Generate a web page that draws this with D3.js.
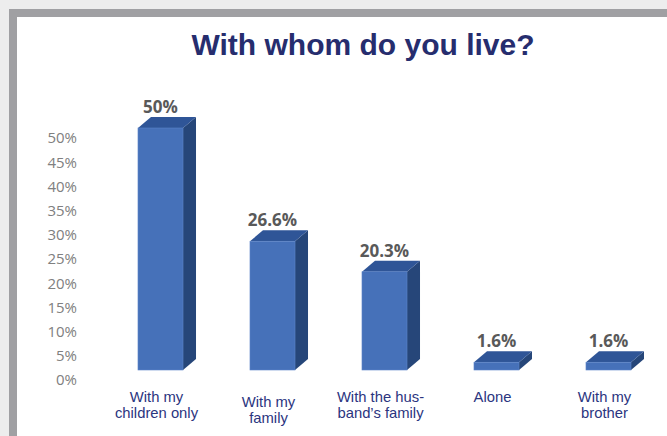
<!DOCTYPE html>
<html>
<head>
<meta charset="utf-8">
<script src="https://cdn.jsdelivr.net/npm/d3@7"></script>
<style>
  html, body { margin: 0; padding: 0; background: #ededed; }
  svg { display: block; }
</style>
</head>
<body>
<div id="chart"></div>
<script>
  // données
  var categories = ["With my children only", "With my family", "With the husband's family", "Alone", "With my brother"];
  var labelLines = [["With my", "children only"], ["With my", "family"], ["With the hus-", "band\u2019s family"], ["Alone"], ["With my", "brother"]];
  var values = [50, 26.6, 20.3, 1.6, 1.6];
  var valueLabels = ["50%", "26.6%", "20.3%", "1.6%", "1.6%"];
  var yTicks = [0, 5, 10, 15, 20, 25, 30, 35, 40, 45, 50];

  var width = 667, height = 436;
  var depthX = 13, depthY = 11;

  var svg = d3.select("#chart")
              .append("svg")
              .attr("width", width)
              .attr("height", height);

  // fond et cadre gris
  svg.append("rect")
     .attr("x", 0).attr("y", 0)
     .attr("width", width).attr("height", height)
     .style("fill", "#ededed");
  svg.append("rect")
     .attr("x", 13).attr("y", 13)
     .attr("width", width + 20).attr("height", height + 20)
     .style("fill", "#ffffff")
     .style("stroke", "#a0a0a3")
     .style("stroke-width", 8);

  svg.append("text")
     .attr("x", 363)
     .attr("y", 55)
     .attr("text-anchor", "middle")
     .style("font-family", "'Liberation Sans', Arial, sans-serif")
     .style("font-weight", "bold")
     .style("font-size", "30px")
     .style("fill", "#262d6e")
     .text("With whom do you live?");

  var xScale = d3.scaleBand()
    .domain(categories)
    .range([104.5, 104.5 + 5 * 112])
    .paddingInner(0.598)
    .paddingOuter(0.299);

  var yScale = d3.scaleLinear()
    .domain([0, 50])
    .range([370, 128]);

  // axe des y (sans ligne), décalé vers le bas comme le mur du fond
  var yAxis = svg.append("g")
     .attr("class", "axis")
     .attr("transform", "translate(77,10)")
     .call(d3.axisLeft(yScale)
             .tickValues(yTicks)
             .tickSize(0)
             .tickPadding(0)
             .tickFormat(function(d) { return d + "%"; }));
  yAxis.select(".domain").remove();
  yAxis.selectAll("text")
       .style("font-family", "'Open Sans', sans-serif")
       .style("font-size", "15px")
       .style("fill", "#808080");

  var bars = svg.selectAll(".bar")
    .data(values)
    .enter().append("g")
    .attr("class", "bar");

  // face latérale
  bars.append("path")
      .attr("d", function(d, i) {
        var x1 = xScale(categories[i]) + xScale.bandwidth();
        var y0 = yScale(0), y1 = yScale(d);
        return "M" + x1 + "," + y1 + "L" + (x1 + depthX) + "," + (y1 - depthY) +
               "L" + (x1 + depthX) + "," + (y0 - depthY) + "L" + x1 + "," + y0 + "Z";
      })
      .style("fill", "#264679");

  // face du dessus
  bars.append("path")
      .attr("d", function(d, i) {
        var x0 = xScale(categories[i]), x1 = x0 + xScale.bandwidth();
        var y1 = yScale(d);
        return "M" + x0 + "," + y1 + "L" + (x0 + depthX) + "," + (y1 - depthY) +
               "L" + (x1 + depthX) + "," + (y1 - depthY) + "L" + x1 + "," + y1 + "Z";
      })
      .style("fill", "#2f5597");

  // face avant
  bars.append("rect")
      .attr("x", function(d, i) { return xScale(categories[i]); })
      .attr("y", function(d) { return yScale(d); })
      .attr("width", xScale.bandwidth())
      .attr("height", function(d) { return yScale(0) - yScale(d); })
      .style("fill", "#4671b9")
      .style("stroke", "#5a84c8")
      .style("stroke-width", 0.6);

  bars.append("text")
      .attr("x", function(d, i) { return xScale(categories[i]) + xScale.bandwidth() / 2; })
      .attr("y", function(d) { return yScale(d) - 15; })
      .attr("text-anchor", "middle")
      .style("font-family", "'Open Sans', sans-serif")
      .style("font-weight", "bold")
      .style("font-size", "17px")
      .style("fill", "#595959")
      .text(function(d, i) { return valueLabels[i]; });

  // étiquettes des catégories
  var labels = svg.selectAll(".xlabel")
    .data(categories)
    .enter().append("text")
    .attr("class", "xlabel")
    .attr("x", function(d) { return xScale(d) + xScale.bandwidth() / 2 - 4; })
    .attr("y", function(d, i) { return i === 1 ? 407 : 402; })
    .attr("text-anchor", "middle")
    .style("font-family", "'Liberation Sans', Arial, sans-serif")
    .style("font-size", "14.8px")
    .style("fill", "#2b3580");

  labels.each(function(d, i) {
    var t = d3.select(this);
    var x = t.attr("x");
    labelLines[i].forEach(function(line, k) {
      t.append("tspan")
       .attr("x", x)
       .attr("dy", k === 0 ? 0 : 16)
       .text(line);
    });
  });
</script>
</body>
</html>
